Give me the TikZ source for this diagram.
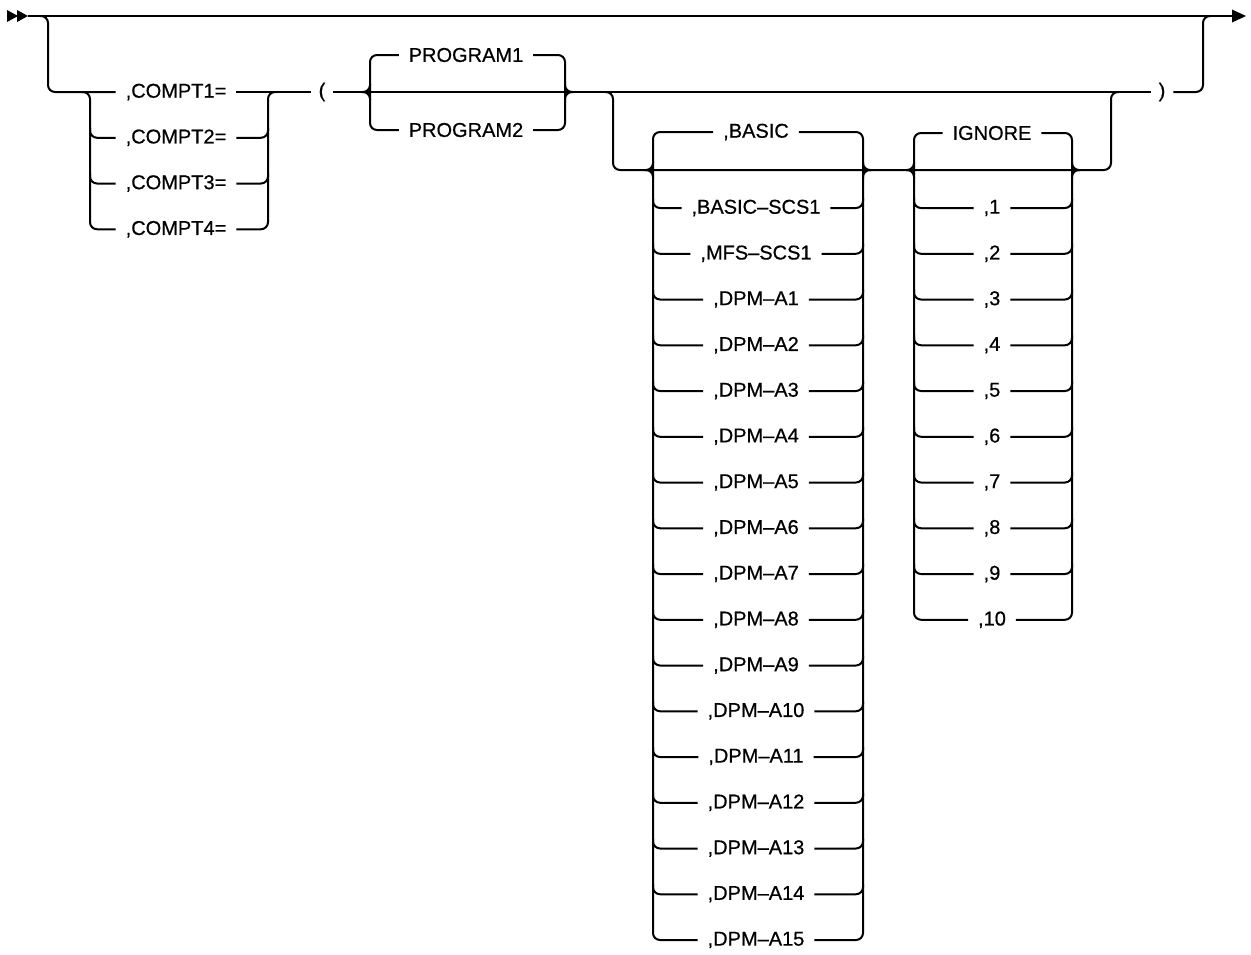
\documentclass[tikz,border=0pt]{standalone}
\usepackage{fontspec}
\setmainfont{Liberation Sans}
\newfontfamily\lblfont[FakeBold=0.6]{Liberation Sans}
\begin{document}
\begin{tikzpicture}[x=1pt,y=-1pt,line width=2pt,
  rr/.style={rounded corners=7pt},
  lbl/.style={font=\lblfont\fontsize{20}{22}\selectfont,inner xsep=9pt,inner ysep=0pt,anchor=center},
  tip/.style={fill=black,draw=none}]
\useasboundingbox (0,0) rectangle (1251,954);
% main line
\coordinate (start) at (28,16);
\coordinate (end) at (1232,16);
\fill[tip] (7,10) -- (18,16) -- (7,22) -- cycle;
\fill[tip] (17,10) -- (28,16) -- (17,22) -- cycle;
\draw (start) -- (end);
\fill[tip] (1232,9.5) -- (1246,16) -- (1232,22.5) -- cycle;
% COMPT group
\foreach \i/\y in {1/92,2/137.75,3/183.5,4/229.25}
  \node[lbl] (c\i) at (176,\y) {,COMPT\i=};
\draw[rr] (40,16) -- (48,16) -- (48,92) -- (c1.west);
\draw[rr] (82,92) -- (90,92) -- (90,229.25) -- (c4.west);
\draw[rr] (c4.east) -- (268,229.25) -- (268,92) -- (276,92);
\foreach \i/\y in {2/137.75,3/183.5}{
  \draw[rr] (90,\y-10) -- (90,\y) -- (c\i.west);
  \draw[rr] (c\i.east) -- (268,\y) -- (268,\y-10);
}
\node[lbl,inner xsep=7pt] (lp) at (322,92) {(};
\draw (c1.east) -- (lp.west);
% PROGRAM group
\node[lbl] (p1) at (466,55) {PROGRAM1};
\node[lbl] (p2) at (466,130) {PROGRAM2};
\node[lbl,inner xsep=7pt] (rp) at (1162,92) {)};
\draw (lp.east) -- (rp.west);
\draw[rr] (p1.west) -- (370,55) -- (370,130) -- (p2.west);
\draw[rr] (362,92) -- (370,92) -- (370,84);
\draw[rr] (362,92) -- (370,92) -- (370,100);
\draw[rr] (p1.east) -- (565,55) -- (565,130) -- (p2.east);
\draw[rr] (573,92) -- (565,92) -- (565,84);
\draw[rr] (573,92) -- (565,92) -- (565,100);
% lower optional branch
\draw[rr] (605,92) -- (613,92) -- (613,170) -- (1111,170) -- (1111,92) -- (1119,92);
% BASIC group
\node[lbl] (b0) at (756,132) {,BASIC};
\foreach \i/\t in {1/{,BASIC–SCS1},2/{,MFS–SCS1},3/{,DPM–A1},4/{,DPM–A2},5/{,DPM–A3},6/{,DPM–A4},7/{,DPM–A5},8/{,DPM–A6},9/{,DPM–A7},10/{,DPM–A8},11/{,DPM–A9},12/{,DPM–A10},13/{,DPM–A11},14/{,DPM–A12},15/{,DPM–A13},16/{,DPM–A14},17/{,DPM–A15}}
  \node[lbl] (b\i) at (756,{208+(\i-1)*45.75}) {\t};
\draw[rr] (b0.west) -- (653,132) -- (653,940) -- (b17.west);
\draw[rr] (b0.east) -- (863,132) -- (863,940) -- (b17.east);
\draw[rr] (645,170) -- (653,170) -- (653,162);
\draw[rr] (645,170) -- (653,170) -- (653,178);
\draw[rr] (871,170) -- (863,170) -- (863,162);
\draw[rr] (871,170) -- (863,170) -- (863,178);
\foreach \i in {1,...,16}{
  \pgfmathsetmacro{\yy}{208+(\i-1)*45.75}
  \draw[rr] (653,\yy-10) -- (653,\yy) -- (b\i.west);
  \draw[rr] (b\i.east) -- (863,\yy) -- (863,\yy-10);
}
% IGNORE group
\node[lbl] (g0) at (992,133) {IGNORE};
\foreach \i in {1,...,10}
  \node[lbl] (g\i) at (992,{208+(\i-1)*45.75}) {,\i};
\draw[rr] (g0.west) -- (914,133) -- (914,619.75) -- (g10.west);
\draw[rr] (g0.east) -- (1072,133) -- (1072,619.75) -- (g10.east);
\draw[rr] (906,170) -- (914,170) -- (914,162);
\draw[rr] (906,170) -- (914,170) -- (914,178);
\draw[rr] (1080,170) -- (1072,170) -- (1072,162);
\draw[rr] (1080,170) -- (1072,170) -- (1072,178);
\foreach \i in {1,...,9}{
  \pgfmathsetmacro{\yy}{208+(\i-1)*45.75}
  \draw[rr] (914,\yy-10) -- (914,\yy) -- (g\i.west);
  \draw[rr] (g\i.east) -- (1072,\yy) -- (1072,\yy-10);
}
% closing
\draw[rr] (rp.east) -- (1203,92) -- (1203,16) -- (1211,16);
\end{tikzpicture}
\end{document}
